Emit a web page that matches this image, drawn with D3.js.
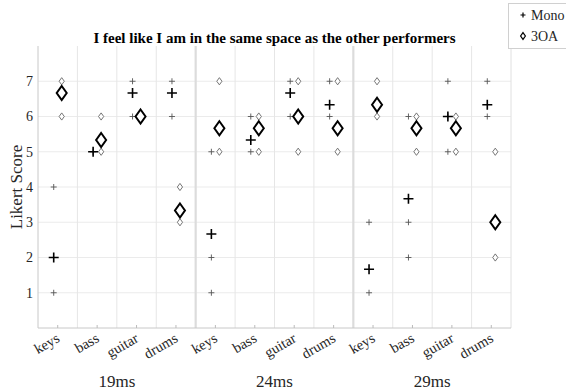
<!DOCTYPE html>
<html>
<head>
<meta charset="utf-8">
<script src="https://cdn.jsdelivr.net/npm/d3@7"></script>
<style>
  html, body { margin: 0; padding: 0; background: #fff; }
  svg { display: block; }
  svg text { font-family: "Liberation Serif", "Times New Roman", Times, serif; }
</style>
</head>
<body>
<svg id="chart" width="566" height="390"></svg>
<script>
// Latency conditions and instruments on the x axis
const groups = ["19ms", "24ms", "29ms"];
const instruments = ["keys", "bass", "guitar", "drums"];
const yTicks = [1, 2, 3, 4, 5, 6, 7];

// Individual Likert responses (three performers), in group × instrument order
const monoResponses = [
  [4, 1, 1], [5, 5, 5], [7, 7, 6], [7, 7, 6],
  [5, 2, 1], [6, 5, 5], [7, 7, 6], [7, 6, 6],
  [3, 1, 1], [6, 3, 2], [7, 6, 5], [7, 6, 6]
];
const foaResponses = [
  [7, 7, 6], [6, 5, 5], [6, 6, 6], [4, 3, 3],
  [7, 5, 5], [6, 6, 5], [7, 6, 5], [7, 5, 5],
  [7, 6, 6], [6, 6, 5], [6, 6, 5], [5, 2, 2]
];

const title = "I feel like I am in the same space as the other performers";

const svg = d3.select("#chart");
const m = { left: 38, right: 511, top: 46, bottom: 328 };

const cats = [];
groups.forEach(g => instruments.forEach(ins => cats.push(g + "|" + ins)));

const x = d3.scaleBand().domain(cats).range([m.left, m.right]).paddingInner(0).paddingOuter(0);
const y = d3.scaleLinear().domain([0, 8]).range([m.bottom, m.top]);
const off = 4;

// grid: horizontal at y ticks, vertical at category boundaries
const grid = svg.append("g");
grid.selectAll("line.h").data(yTicks).join("line")
  .attr("x1", m.left).attr("x2", m.right)
  .attr("y1", d => y(d)).attr("y2", d => y(d))
  .attr("stroke", "#ebebeb").attr("stroke-width", 1);
grid.selectAll("line.v").data(cats.filter((c, i) => i > 0 && i % 4 !== 0)).join("line")
  .attr("x1", d => x(d)).attr("x2", d => x(d))
  .attr("y1", m.top).attr("y2", m.bottom)
  .attr("stroke", "#e6e6e6").attr("stroke-width", 1);

// separators between latency groups
grid.selectAll("line.sep").data(groups.slice(1)).join("line")
  .attr("x1", g => x(g + "|" + instruments[0])).attr("x2", g => x(g + "|" + instruments[0]))
  .attr("y1", m.top).attr("y2", m.bottom)
  .attr("stroke", "#dcdcdc").attr("stroke-width", 2.2);

// axes
const axes = svg.append("g");
axes.append("line").attr("x1", m.left).attr("x2", m.left).attr("y1", m.top).attr("y2", m.bottom)
  .attr("stroke", "#c8c8c8");
axes.append("line").attr("x1", m.right).attr("x2", m.right).attr("y1", m.top).attr("y2", m.bottom)
  .attr("stroke", "#e0e0e0");
axes.append("line").attr("x1", m.left).attr("x2", m.right).attr("y1", m.bottom).attr("y2", m.bottom)
  .attr("stroke", "#c8c8c8");

// x ticks at category centres
axes.selectAll("line.xt").data(cats).join("line")
  .attr("x1", d => x(d) + x.bandwidth() / 2).attr("x2", d => x(d) + x.bandwidth() / 2)
  .attr("y1", m.bottom).attr("y2", m.bottom - 3)
  .attr("stroke", "#bbb");

// y tick labels
axes.selectAll("text.yt").data(yTicks).join("text")
  .attr("x", m.left - 5).attr("y", d => y(d)).attr("dy", "0.35em")
  .attr("text-anchor", "end").attr("font-size", 14).attr("fill", "#262626")
  .text(d => d);

// x tick labels, rotated
axes.selectAll("text.xl").data(cats).join("text")
  .attr("transform", d => `translate(${x(d) + x.bandwidth() / 2 + 3},${m.bottom + 13}) rotate(-30)`)
  .attr("text-anchor", "end").attr("font-size", 14.5).attr("fill", "#262626")
  .text(d => d.split("|")[1]);

// group labels
axes.selectAll("text.gl").data(groups).join("text")
  .attr("x", g => x(g + "|" + instruments[0]) + x.bandwidth() * 2)
  .attr("y", 387).attr("text-anchor", "middle")
  .attr("font-size", 17).attr("fill", "#262626")
  .text(g => g);

// y axis label
svg.append("text")
  .attr("transform", `translate(22,${(m.top + m.bottom) / 2}) rotate(-90)`)
  .attr("text-anchor", "middle").attr("font-size", 17).attr("fill", "#262626")
  .text("Likert Score");

// title
svg.append("text")
  .attr("x", (m.left + m.right) / 2).attr("y", 43)
  .attr("text-anchor", "middle").attr("font-size", 15).attr("font-weight", "bold")
  .attr("fill", "#000").text(title);

// marker paths
const plusPath = s => `M${-s},0H${s}M0,${-s}V${s}`;
const diamondPath = (w, h) => `M0,${-h}L${w},0L0,${h}L${-w},0Z`;

const marks = svg.append("g");
function drawSeries(responses, dx, isPlus) {
  const pts = [];
  responses.forEach((vals, i) => {
    Array.from(new Set(vals)).forEach(v => pts.push({ c: cats[i], v }));
  });
  marks.append("g").selectAll("path").data(pts).join("path")
    .attr("transform", d => `translate(${x(d.c) + x.bandwidth() / 2 + dx},${y(d.v)})`)
    .attr("d", isPlus ? plusPath(3) : diamondPath(2.6, 3.6))
    .attr("fill", isPlus ? "none" : "#fff")
    .attr("stroke", isPlus ? "#555" : "#666").attr("stroke-width", 0.9);
}
function drawMeans(responses, dx, isPlus) {
  const means = responses.map((vals, i) => ({ c: cats[i], v: d3.mean(vals) }));
  marks.append("g").selectAll("path").data(means).join("path")
    .attr("transform", d => `translate(${x(d.c) + x.bandwidth() / 2 + dx},${y(d.v)})`)
    .attr("d", isPlus ? plusPath(5) : diamondPath(5, 7))
    .attr("fill", isPlus ? "none" : "#fff")
    .attr("stroke", "#000").attr("stroke-width", isPlus ? 1.6 : 2);
}
drawSeries(monoResponses, -off, true);
drawSeries(foaResponses, off, false);
drawMeans(monoResponses, -off, true);
drawMeans(foaResponses, off, false);

// legend
const lg = svg.append("g");
lg.append("rect").attr("x", 508.5).attr("y", 3.5).attr("width", 70).attr("height", 45)
  .attr("fill", "#fff").attr("stroke", "#d0d0d0");
const entries = [["Mono", true], ["3OA", false]];
entries.forEach(([label, isPlus], i) => {
  const cy = 15 + i * 21;
  lg.append("path").attr("transform", `translate(523,${cy})`)
    .attr("d", isPlus ? plusPath(2.5) : diamondPath(2.4, 3.4))
    .attr("fill", "none").attr("stroke", "#000").attr("stroke-width", 1.2);
  lg.append("text").attr("x", 531).attr("y", cy).attr("dy", "0.35em")
    .attr("font-size", 14).attr("fill", "#262626").text(label);
});
</script>
</body>
</html>
